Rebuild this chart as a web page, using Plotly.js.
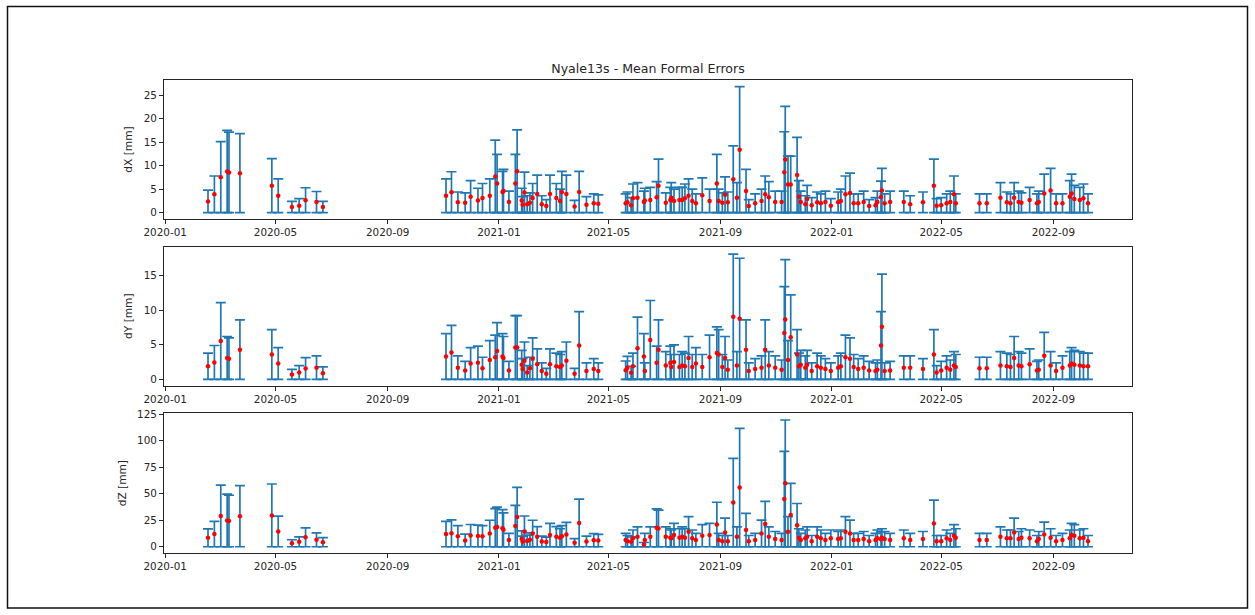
<!DOCTYPE html>
<html>
<head>
<meta charset="utf-8">
<script src="https://cdn.plot.ly/plotly-3.0.1.min.js"></script>
<style>
  html, body { margin: 0; padding: 0; background: #fff; }
  #chart { width: 1255px; height: 615px; }
</style>
</head>
<body>
<div id="chart"></div>
<script>
// Session dates of the solutions
const sessionDates = [
  '2020-02-17','2020-02-24','2020-03-02','2020-03-09','2020-03-11','2020-03-23','2020-04-27','2020-05-04',
  '2020-05-19','2020-05-27','2020-06-03','2020-06-15','2020-06-22',
  '2020-11-04','2020-11-10','2020-11-17','2020-11-25','2020-12-01','2020-12-09','2020-12-14','2020-12-22',
  '2020-12-28','2020-12-30','2021-01-05','2021-01-06','2021-01-12','2021-01-19','2021-01-21','2021-01-26',
  '2021-01-27','2021-01-29','2021-02-01','2021-02-04','2021-02-07','2021-02-12','2021-02-17','2021-02-22',
  '2021-02-26','2021-03-05','2021-03-09','2021-03-11','2021-03-16','2021-03-25','2021-03-30','2021-04-07',
  '2021-04-15','2021-04-20',
  '2021-05-20','2021-05-22','2021-05-26','2021-05-28','2021-06-02','2021-06-09','2021-06-10','2021-06-16',
  '2021-06-23','2021-06-25','2021-07-03','2021-07-08','2021-07-09','2021-07-12','2021-07-18','2021-07-21',
  '2021-07-24','2021-07-28','2021-08-01','2021-08-05','2021-08-12','2021-08-20','2021-08-28','2021-08-30',
  '2021-09-03','2021-09-06','2021-09-09','2021-09-15','2021-09-19','2021-09-22','2021-09-29','2021-10-02',
  '2021-10-09','2021-10-16','2021-10-20','2021-10-24','2021-10-31','2021-11-07','2021-11-10','2021-11-11',
  '2021-11-14','2021-11-17','2021-11-24','2021-11-26','2021-11-28','2021-12-03','2021-12-05','2021-12-10',
  '2021-12-16','2021-12-20','2021-12-25','2021-12-31','2022-01-08','2022-01-11','2022-01-16','2022-01-21',
  '2022-01-25','2022-01-30','2022-02-05','2022-02-11','2022-02-18','2022-02-20','2022-02-24','2022-02-25',
  '2022-02-28','2022-03-06','2022-03-21','2022-03-28','2022-04-11','2022-04-23','2022-04-26','2022-05-01',
  '2022-05-07','2022-05-11','2022-05-15','2022-05-17','2022-06-12','2022-06-20','2022-07-05','2022-07-12',
  '2022-07-16','2022-07-20','2022-07-25','2022-07-28','2022-08-06','2022-08-14','2022-08-16','2022-08-22',
  '2022-08-29','2022-09-04','2022-09-11','2022-09-19','2022-09-21','2022-09-24','2022-09-30','2022-10-04',
  '2022-10-09'
];

// Mean formal errors per session [mm]
const dX = [
  2.4, 3.9, 7.55, 8.75, 8.55, 8.4, 5.75, 3.6, 1.2, 1.5, 2.65, 2.25, 1.2,
  3.6, 4.35, 2.2, 2.1, 3.4, 2.6, 3.1, 3.6, 7.7, 6.2, 4.4, 4.6, 2.3, 6.2, 8.8, 2.6,
  1.7, 4.3, 1.8, 2.1, 3.1, 4.0, 1.8, 1.4, 4.0, 3.1, 2.5, 4.4, 4.0, 1.3, 4.4, 1.7,
  2.0, 1.9,
  2.0, 2.2, 1.6, 3.05, 3.2, 2.3, 2.6, 2.7, 3.3, 5.7, 2.1, 2.7, 3.2, 2.5, 2.7, 2.7,
  3.05, 3.6, 2.5, 2.0, 3.7, 2.5, 6.2, 2.5, 2.1, 3.8, 2.2, 7.1, 3.2, 13.4, 4.6, 1.4,
  2.0, 2.5, 3.9, 3.3, 2.3, 2.3, 8.6, 11.3, 6.0, 6.0, 8.0, 3.4, 2.3, 1.8, 2.9, 1.6,
  2.2, 2.0, 2.3, 1.5, 2.2, 2.5, 3.9, 4.2, 2.0, 2.0, 2.3, 1.4, 1.6, 2.3, 3.35, 4.7,
  2.0, 2.3, 2.3, 1.8, 2.2, 5.7, 1.5, 1.6, 2.0, 2.3, 3.9, 2.0, 2.0, 2.0, 3.2, 2.2,
  2.0, 3.2, 2.3, 2.1, 2.7, 2.0, 2.3, 4.1, 4.7, 2.0, 2.0, 3.4, 4.1, 2.9, 2.7, 3.05,
  2.0
];
const dY = [
  1.9, 2.45, 5.55, 3.1, 3.0, 4.3, 3.6, 2.3, 0.72, 1.0, 1.58, 1.7, 0.9,
  3.3, 3.9, 1.7, 1.3, 2.3, 2.4, 1.6, 2.8, 3.2, 4.1, 3.3, 3.1, 1.3, 4.6, 4.6, 2.1,
  1.5, 2.7, 1.0, 1.6, 3.0, 2.2, 1.2, 0.8, 2.2, 1.9, 1.8, 2.0, 2.7, 0.8, 4.9, 1.2,
  1.5, 1.2,
  1.33, 1.67, 0.95, 1.9, 4.5, 3.3, 1.2, 5.7, 2.4, 4.3, 2.0, 2.4, 1.8, 2.5, 1.8, 2.0,
  1.9, 3.1, 1.8, 2.3, 1.8, 3.2, 3.8, 3.6, 1.8, 3.1, 1.4, 9.05, 2.0, 8.75, 4.3, 1.2,
  1.5, 1.7, 4.3, 2.0, 1.7, 1.4, 6.7, 8.65, 2.8, 6.1, 3.6, 1.9, 2.1, 1.7, 2.1, 1.2,
  1.9, 1.7, 1.5, 1.2, 1.7, 1.9, 3.2, 3.0, 1.8, 1.5, 1.7, 1.3, 1.2, 1.4, 4.9, 7.6,
  1.2, 1.3, 1.7, 1.7, 1.5, 3.6, 1.0, 1.3, 1.7, 1.4, 2.0, 1.8, 1.6, 1.6, 2.0, 1.9,
  1.8, 3.1, 2.0, 1.9, 2.2, 1.3, 1.4, 3.4, 2.0, 1.2, 1.7, 2.0, 2.3, 2.1, 2.0, 1.9,
  1.9
];
const dZ = [
  8.4, 12, 29.1, 24.8, 24.3, 28.8, 29.6, 14.4, 3.3, 4.7, 8.9, 6.5, 4.3,
  12, 12.7, 10, 6, 10.5, 10.2, 10, 12.5, 18, 18.7, 17.5, 16, 6.3, 19.5, 28, 7.5,
  5, 14.5, 5.5, 6.5, 12.5, 9.5, 5, 4.5, 11, 9.5, 8.5, 10, 11.5, 3.8, 22.5, 5,
  6.2, 5.8,
  6.3, 5.3, 4.7, 7.9, 9.4, 2.0, 6.3, 9.4, 17.9, 17.3, 9.4, 8.5, 7.9, 11, 8.5, 9.4,
  8.5, 14.2, 7.9, 6.3, 10.4, 11, 21, 6.3, 5.3, 13.5, 5.3, 41.7, 9.4, 55.8, 15.7, 5.3,
  6.3, 12.6, 21.4, 9.4, 7.2, 6.3, 45, 59.8, 14.2, 29.9, 20.4, 8.5, 6.3, 7.9, 9.4, 5.3,
  9.4, 7.9, 6.3, 7.9, 7.2, 7.9, 14.2, 12.6, 6.3, 6.3, 7.2, 5.3, 6.3, 7.9, 7.0, 8.5,
  7.2, 6.3, 7.9, 6.3, 7.2, 22, 5.3, 5.3, 7.9, 6.3, 10.4, 8.5, 6.3, 6.3, 9.4, 7.9,
  7.9, 13.5, 7.2, 8.5, 7.9, 5.3, 7.2, 11.6, 8.5, 5.3, 6.3, 7.9, 11, 10.4, 7.9, 8.5,
  5.3
];

const panelNames = ['dX [mm]', 'dY [mm]', 'dZ [mm]'];
const panelValues = [dX, dY, dZ];
const xTickStart = '2020-01-01';

const BLUE = '#1f77b4';
const FONT = 'DejaVu Sans, Liberation Sans, sans-serif';
const TXT = '#262626';

// One error-bar trace per panel: red dot at the mean, bar spanning ±value
const traces = panelValues.map((vals, i) => ({
  type: 'scatter',
  mode: 'markers',
  x: sessionDates,
  y: vals,
  xaxis: i === 0 ? 'x' : 'x' + (i + 1),
  yaxis: i === 0 ? 'y' : 'y' + (i + 1),
  marker: { color: 'red', size: 4.5 },
  error_y: { type: 'data', array: vals, symmetric: true, color: BLUE, thickness: 1.7, width: 5 },
  hoverinfo: 'x+y',
  showlegend: false
}));

const xRange = ['2019-12-30 18:00', '2022-11-26 06:00'];
function xAxis(anchor) {
  return {
    type: 'date', range: xRange, anchor: anchor,
    tick0: xTickStart, dtick: 'M4', tickformat: '%Y-%m',
    ticks: 'outside', ticklen: 4, tickwidth: 1, tickcolor: TXT,
    showline: true, mirror: true, linecolor: TXT, linewidth: 1,
    showgrid: false, zeroline: false,
    tickfont: { family: FONT, size: 10.4, color: TXT }
  };
}
function yAxis(anchor, domain, range, dtick, title) {
  return {
    anchor: anchor, domain: domain, range: range, dtick: dtick, tick0: 0,
    ticks: 'outside', ticklen: 4, tickwidth: 1, tickcolor: TXT,
    showline: true, mirror: true, linecolor: TXT, linewidth: 1,
    showgrid: false, zeroline: false,
    tickfont: { family: FONT, size: 10.4, color: TXT },
    title: { text: title, font: { family: FONT, size: 10.6, color: TXT }, standoff: 8 }
  };
}

const layout = {
  width: 1255, height: 615,
  margin: { l: 164, r: 123, t: 80, b: 62 },
  paper_bgcolor: '#fff', plot_bgcolor: '#fff',
  title: {
    text: 'Nyale13s - Mean Formal Errors',
    x: 0.5, xref: 'paper', xanchor: 'center',
    y: 1 - 69 / 615, yref: 'container', yanchor: 'middle',
    font: { family: FONT, size: 12.6, color: TXT }
  },
  xaxis: xAxis('y'),
  xaxis2: xAxis('y2'),
  xaxis3: xAxis('y3'),
  yaxis: yAxis('x', [0.7061, 1], [-1.34, 28.19], 5, panelNames[0]),
  yaxis2: yAxis('x2', [0.3537, 0.6476], [-0.91, 19.17], 5, panelNames[1]),
  yaxis3: yAxis('x3', [0, 0.2953], [-5.9, 125.9], 25, panelNames[2]),
  shapes: [{
    type: 'rect', xref: 'paper', yref: 'paper', layer: 'above',
    x0: (7.5 - 164) / 968, x1: (1247.5 - 164) / 968,
    y0: (553 - 608) / 473, y1: (553 - 6.5) / 473,
    line: { color: '#111', width: 1.5 }, fillcolor: 'rgba(0,0,0,0)'
  }]
};

Plotly.newPlot('chart', traces, layout, { displayModeBar: false, staticPlot: true });
</script>
</body>
</html>
